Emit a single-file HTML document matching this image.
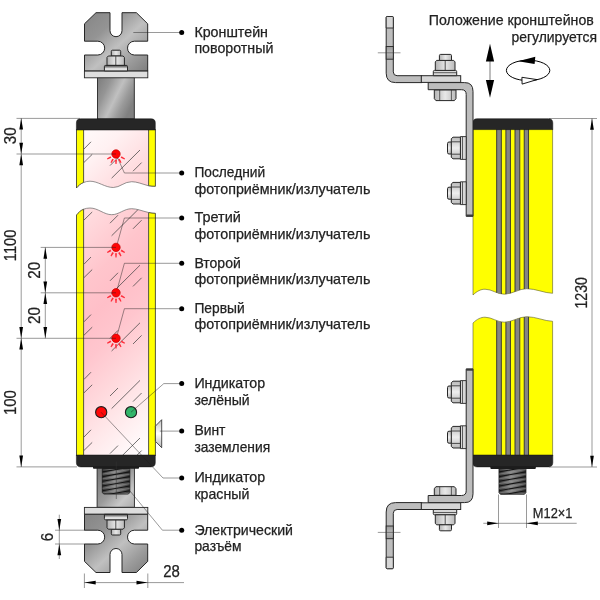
<!DOCTYPE html>
<html lang="ru">
<head>
<meta charset="utf-8">
<title>Световой барьер — габаритный чертёж</title>
<style>
html,body{margin:0;padding:0;background:#fff;}
body{width:600px;height:600px;overflow:hidden;}
svg{display:block;will-change:transform;filter:blur(0.5px);}
svg text{font-family:"Liberation Sans", sans-serif;stroke:#222;stroke-width:0.25px;}
</style>
</head>
<body>
<svg width="600" height="600" viewBox="0 0 600 600">
<rect width="600" height="600" fill="#fff"/>
<defs>
<linearGradient id="gBr" x1="0" y1="0" x2="1" y2="1">
 <stop offset="0" stop-color="#858585"/><stop offset="0.3" stop-color="#949494"/>
 <stop offset="0.55" stop-color="#c0c0c0"/><stop offset="0.78" stop-color="#9c9c9c"/><stop offset="1" stop-color="#7e7e7e"/>
</linearGradient>
<linearGradient id="gBrF" x1="0" y1="1" x2="1" y2="0">
 <stop offset="0" stop-color="#858585"/><stop offset="0.3" stop-color="#949494"/>
 <stop offset="0.55" stop-color="#c0c0c0"/><stop offset="0.78" stop-color="#9c9c9c"/><stop offset="1" stop-color="#7e7e7e"/>
</linearGradient>
<linearGradient id="gCyl" x1="0" y1="0" x2="1" y2="0.55">
 <stop offset="0" stop-color="#7c7c7c"/><stop offset="0.3" stop-color="#959595"/><stop offset="0.58" stop-color="#c0c0c0"/><stop offset="0.8" stop-color="#9a9a9a"/><stop offset="1" stop-color="#808080"/>
</linearGradient>
<linearGradient id="gCylB" x1="0" y1="0" x2="1" y2="1">
 <stop offset="0" stop-color="#767676"/><stop offset="0.5" stop-color="#9a9a9a"/><stop offset="0.76" stop-color="#c8c8c8"/><stop offset="1" stop-color="#acacac"/>
</linearGradient>
<linearGradient id="gThr" x1="0" y1="0" x2="1" y2="0">
 <stop offset="0" stop-color="#343434"/><stop offset="0.45" stop-color="#868686"/><stop offset="0.75" stop-color="#5e5e5e"/><stop offset="1" stop-color="#323232"/>
</linearGradient>
<linearGradient id="gNut" x1="0" y1="0" x2="1" y2="0">
 <stop offset="0" stop-color="#b2b2b2"/><stop offset="0.5" stop-color="#e8e8e8"/><stop offset="1" stop-color="#bababa"/>
</linearGradient>
<linearGradient id="gNutV" x1="0" y1="0" x2="0" y2="1">
 <stop offset="0" stop-color="#bababa"/><stop offset="0.5" stop-color="#eeeeee"/><stop offset="1" stop-color="#bababa"/>
</linearGradient>
<linearGradient id="gWash" x1="0" y1="0" x2="0" y2="1">
 <stop offset="0" stop-color="#4a4a4a"/><stop offset="0.3" stop-color="#8e8e8e"/><stop offset="0.55" stop-color="#dcdcdc"/><stop offset="1" stop-color="#ececec"/>
</linearGradient>
<linearGradient id="gWashF" x1="0" y1="1" x2="0" y2="0">
 <stop offset="0" stop-color="#4a4a4a"/><stop offset="0.3" stop-color="#8e8e8e"/><stop offset="0.55" stop-color="#dcdcdc"/><stop offset="1" stop-color="#ececec"/>
</linearGradient>
<linearGradient id="gSlot" x1="0" y1="0" x2="0" y2="1">
 <stop offset="0" stop-color="#9a9a9a"/><stop offset="0.5" stop-color="#b8b8b8"/><stop offset="1" stop-color="#9a9a9a"/>
</linearGradient>
<linearGradient id="gPink" gradientUnits="userSpaceOnUse" x1="84" y1="130" x2="279" y2="325">
 <stop offset="0" stop-color="#fffafa"/><stop offset="0.1" stop-color="#fff1f2"/>
 <stop offset="0.22" stop-color="#ffdde0"/><stop offset="0.4" stop-color="#ffc5cc"/><stop offset="0.5" stop-color="#ffbfc8"/>
 <stop offset="0.6" stop-color="#ffc6ce"/><stop offset="0.72" stop-color="#ffd8dc"/><stop offset="0.83" stop-color="#ffe9eb"/>
 <stop offset="0.93" stop-color="#fff7f8"/><stop offset="1" stop-color="#ffffff"/>
</linearGradient>
<linearGradient id="gScrew" x1="0" y1="0" x2="0" y2="1">
 <stop offset="0" stop-color="#c4c4c4"/><stop offset="0.5" stop-color="#ffffff"/><stop offset="1" stop-color="#b8b8b8"/>
</linearGradient>
<clipPath id="cpTop"><path d="M83.6,128 H148.6 V185.8 C142,184 137,181.7 131.7,181.7 C124,181.7 120,187.5 113.3,187.5 C105,187.5 98,181.2 90,181.2 C87.5,181.2 85.5,181.7 83.6,182.5 Z"/></clipPath>
<clipPath id="cpBot"><path d="M83.6,456 H148.6 V212.5 C142,211 137,208.7 131.7,208.7 C124,208.7 119,214.7 111.7,214.7 C104,214.7 98,208 90,208 C87.5,208 85.5,208.5 83.6,209.2 Z"/></clipPath>
</defs>
<g id="left-top">
<rect x="97.5" y="77.5" width="36.8" height="41.5" fill="url(#gCyl)" stroke="#262626" stroke-width="0.9"/>
<path d="M96,12.7 H110 V30.7 A6,6 0 0 0 122,30.7 V12.7 H136.4 L147.7,23.8 V41.2 H134.4 A6.9,6.9 0 0 0 134.4,55 H147.7 V71 H84.5 V55 H97.8 A6.9,6.9 0 0 0 97.8,41.2 H84.5 V23.8 Z" fill="url(#gBr)" stroke="#262626" stroke-width="1" stroke-linejoin="round"/>
<rect x="84.4" y="71.1" width="63.4" height="6.7" fill="#dedede" stroke="#262626" stroke-width="0.9"/>
<path d="M111.3,56 V51.4 Q111.3,50.2 112.5,50.2 H119.5 Q120.7,50.2 120.7,51.4 V56 Z" fill="url(#gNut)" stroke="#262626" stroke-width="1"/>
<path d="M107,65.4 V57.4 L108.3,56 H123.1 L124.4,57.4 V65.4 Z" fill="url(#gNut)" stroke="#262626" stroke-width="1"/>
<path d="M115.8,56.2 V65.2" stroke="#262626" stroke-width="0.8" fill="none"/>
<path d="M104.4,70.9 V66.6 Q104.4,65.4 105.6,65.4 H126.3 Q127.5,65.4 127.5,66.6 V70.9 Z" fill="url(#gWash)" stroke="#262626" stroke-width="1"/>
</g>
<g id="left-bottom">
<rect x="97.1" y="467" width="37.3" height="40.3" fill="url(#gCylB)" stroke="#262626" stroke-width="0.9"/>
<g transform="translate(0,585.2) scale(1,-1)">
<path d="M96,12.7 H110 V30.7 A6,6 0 0 0 122,30.7 V12.7 H136.4 L147.7,23.8 V41.2 H134.4 A6.9,6.9 0 0 0 134.4,55 H147.7 V71 H84.5 V55 H97.8 A6.9,6.9 0 0 0 97.8,41.2 H84.5 V23.8 Z" fill="url(#gBrF)" stroke="#262626" stroke-width="1" stroke-linejoin="round"/>
<rect x="84.4" y="71.1" width="63.4" height="6.7" fill="#dedede" stroke="#262626" stroke-width="0.9"/>
<path d="M111.3,56 V51.4 Q111.3,50.2 112.5,50.2 H119.5 Q120.7,50.2 120.7,51.4 V56 Z" fill="url(#gNut)" stroke="#262626" stroke-width="1"/>
<path d="M107,65.4 V57.4 L108.3,56 H123.1 L124.4,57.4 V65.4 Z" fill="url(#gNut)" stroke="#262626" stroke-width="1"/>
<path d="M115.8,56.2 V65.2" stroke="#262626" stroke-width="0.8" fill="none"/>
<path d="M104.4,70.9 V66.6 Q104.4,65.4 105.6,65.4 H126.3 Q127.5,65.4 127.5,66.6 V70.9 Z" fill="url(#gWashF)" stroke="#262626" stroke-width="1"/>
</g>
<clipPath id="cpth102"><path d="M102.3,468.5 H129.8 V492.4 L128.4,494 H103.7 L102.3,492.4 Z"/></clipPath>
<path d="M102.3,468.5 H129.8 V492.4 L128.4,494 H103.7 L102.3,492.4 Z" fill="url(#gThr)" stroke="#1e1e1e" stroke-width="0.9" stroke-linejoin="round"/>
<g clip-path="url(#cpth102)"><path d="M102.3,474.2 L129.8,469.5 M102.3,478.9 L129.8,474.2 M102.3,483.6 L129.8,478.9 M102.3,488.3 L129.8,483.6 M102.3,493 L129.8,488.3 M102.3,497.7 L129.8,493" stroke="#a0a0a0" stroke-width="1.2" fill="none" opacity="0.45"/><path d="M102.3,471.9 L129.8,467.2 M102.3,476.6 L129.8,471.9 M102.3,481.3 L129.8,476.6 M102.3,486 L129.8,481.3 M102.3,490.7 L129.8,486 M102.3,495.4 L129.8,490.7" stroke="#141414" stroke-width="1.1" fill="none"/></g>
</g>
<g id="glass">
<rect x="83.6" y="128" width="65" height="62" fill="url(#gPink)" clip-path="url(#cpTop)"/>
<rect x="83.6" y="205" width="65" height="251" fill="url(#gPink)" clip-path="url(#cpBot)"/>
<path d="M84,91.4 L91,84.2 M84,104.8 L92.2,96.8 M110,108 L118,100 M111.6,120.6 L140,92.4 M133,113.6 L141.6,105 M84,149 L91,141.8 M84,162.4 L92.2,154.4 M110,165.6 L118,157.6 M111.6,178.2 L140,150 M133,171.2 L141.6,162.6 M84,206.6 L91,199.4 M84,220 L92.2,212 M110,223.2 L118,215.2 M111.6,235.8 L140,207.6 M133,228.8 L141.6,220.2 M84,264.2 L91,257 M84,277.6 L92.2,269.6 M110,280.8 L118,272.8 M111.6,293.4 L140,265.2 M133,286.4 L141.6,277.8 M84,321.8 L91,314.6 M84,335.2 L92.2,327.2 M110,338.4 L118,330.4 M111.6,351 L140,322.8 M133,344 L141.6,335.4 M84,379.4 L91,372.2 M84,392.8 L92.2,384.8 M110,396 L118,388 M111.6,408.6 L140,380.4 M133,401.6 L141.6,393 M84,437 L91,429.8 M84,450.4 L92.2,442.4 M110,453.6 L118,445.6 M111.6,466.2 L140,438 M133,459.2 L141.6,450.6" stroke="#444" stroke-width="0.75" fill="none" clip-path="url(#cpTop)"/>
<path d="M84,91.4 L91,84.2 M84,104.8 L92.2,96.8 M110,108 L118,100 M111.6,120.6 L140,92.4 M133,113.6 L141.6,105 M84,149 L91,141.8 M84,162.4 L92.2,154.4 M110,165.6 L118,157.6 M111.6,178.2 L140,150 M133,171.2 L141.6,162.6 M84,206.6 L91,199.4 M84,220 L92.2,212 M110,223.2 L118,215.2 M111.6,235.8 L140,207.6 M133,228.8 L141.6,220.2 M84,264.2 L91,257 M84,277.6 L92.2,269.6 M110,280.8 L118,272.8 M111.6,293.4 L140,265.2 M133,286.4 L141.6,277.8 M84,321.8 L91,314.6 M84,335.2 L92.2,327.2 M110,338.4 L118,330.4 M111.6,351 L140,322.8 M133,344 L141.6,335.4 M84,379.4 L91,372.2 M84,392.8 L92.2,384.8 M110,396 L118,388 M111.6,408.6 L140,380.4 M133,401.6 L141.6,393 M84,437 L91,429.8 M84,450.4 L92.2,442.4 M110,453.6 L118,445.6 M111.6,466.2 L140,438 M133,459.2 L141.6,450.6" stroke="#444" stroke-width="0.75" fill="none" clip-path="url(#cpBot)"/>
</g>
<g id="strips" fill="#ffff00" stroke="#2b2b2b" stroke-width="0.8" stroke-linejoin="round">
<path d="M76.5,129.5 H83.6 V182.5 C80.5,183.8 78.5,185.5 76.5,188 Z"/>
<path d="M148.6,129.5 H155.4 V186.3 C153,186.3 151,186.2 148.6,185.8 Z"/>
<path d="M76.5,215 C78.5,212.5 80.5,210.5 83.6,209.2 V455.5 H76.5 Z"/>
<path d="M148.6,212.5 C151,213 153,213.2 155.4,213.3 V455.5 H148.6 Z"/>
</g>
<path d="M83.6,182.5 C85.5,181.7 87.5,181.2 90,181.2 C98,181.2 105,187.5 113.3,187.5 C120,187.5 124,181.7 131.7,181.7 C137,181.7 142,184 148.6,185.8" fill="none" stroke="#666" stroke-width="0.7"/>
<path d="M83.6,209.2 C85.5,208.5 87.5,208 90,208 C98,208 104,214.7 111.7,214.7 C119,214.7 124,208.7 131.7,208.7 C137,208.7 142,211 148.6,212.5" fill="none" stroke="#666" stroke-width="0.7"/>
<path d="M76.4,130 V123 Q76.4,118.8 80.6,118.8 H151.1 Q155.3,118.8 155.3,123 V130 Z" fill="#262626" stroke="#111" stroke-width="0.5"/>
<path d="M76.4,455 V462.6 Q76.4,466.9 80.7,466.9 H151 Q155.3,466.9 155.3,462.6 V455 Z" fill="#262626" stroke="#111" stroke-width="0.5"/>
<rect x="93" y="466.6" width="46" height="2.1" rx="0.8" fill="#1c1c1c"/>
<path d="M155.4,426.1 L161.7,419.7 V447.7 L155.4,441.3 Z" fill="url(#gScrew)" stroke="#262626" stroke-width="0.8" stroke-linejoin="round"/>
<g id="leaders">
<path d="M133.3,32.5 H181" fill="none" stroke="#1c1c1c" stroke-width="0.45"/>
<path d="M116.8,156 L124.4,173 H181" fill="none" stroke="#1c1c1c" stroke-width="0.45"/>
<path d="M116.8,245.4 L124.4,218 H181" fill="none" stroke="#1c1c1c" stroke-width="0.45"/>
<path d="M116.8,290.8 L124.4,263.3 H181" fill="none" stroke="#1c1c1c" stroke-width="0.45"/>
<path d="M116.8,336.3 L124.4,308.7 H181" fill="none" stroke="#1c1c1c" stroke-width="0.45"/>
<path d="M131,412.2 L163.8,383.6 H181" fill="none" stroke="#1c1c1c" stroke-width="0.45"/>
<path d="M159.8,431.1 H181" fill="none" stroke="#1c1c1c" stroke-width="0.45"/>
<path d="M101.2,412.2 L163,478 H181" fill="none" stroke="#1c1c1c" stroke-width="0.45"/>
<path d="M130,491 L162.4,530.2 H181" fill="none" stroke="#1c1c1c" stroke-width="0.45"/>
</g>
<g id="leds">
<path d="M120.63,157.77 L124.47,159.53 L125.02,158.57 L121.58,156.13 Z M118.13,159.58 L120.57,163.02 L121.53,162.47 L119.77,158.63 Z M115.05,159.9 L115.45,164.1 L116.55,164.1 L116.95,159.9 Z M112.23,158.63 L110.47,162.47 L111.43,163.02 L113.87,159.58 Z M110.42,156.13 L106.98,158.57 L107.53,159.53 L111.37,157.77 Z" fill="#ff2d3a"/>
<circle cx="116" cy="154" r="4.2" fill="#ff0505" stroke="#c40000" stroke-width="0.7"/>
<path d="M120.63,251.17 L124.47,252.93 L125.02,251.97 L121.58,249.53 Z M118.13,252.98 L120.57,256.42 L121.53,255.87 L119.77,252.03 Z M115.05,253.3 L115.45,257.5 L116.55,257.5 L116.95,253.3 Z M112.23,252.03 L110.47,255.87 L111.43,256.42 L113.87,252.98 Z M110.42,249.53 L106.98,251.97 L107.53,252.93 L111.37,251.17 Z" fill="#ff2d3a"/>
<circle cx="116" cy="247.4" r="4.2" fill="#ff0505" stroke="#c40000" stroke-width="0.7"/>
<path d="M120.63,296.57 L124.47,298.33 L125.02,297.37 L121.58,294.93 Z M118.13,298.38 L120.57,301.82 L121.53,301.27 L119.77,297.43 Z M115.05,298.7 L115.45,302.9 L116.55,302.9 L116.95,298.7 Z M112.23,297.43 L110.47,301.27 L111.43,301.82 L113.87,298.38 Z M110.42,294.93 L106.98,297.37 L107.53,298.33 L111.37,296.57 Z" fill="#ff2d3a"/>
<circle cx="116" cy="292.8" r="4.2" fill="#ff0505" stroke="#c40000" stroke-width="0.7"/>
<path d="M120.63,342.07 L124.47,343.83 L125.02,342.87 L121.58,340.43 Z M118.13,343.88 L120.57,347.32 L121.53,346.77 L119.77,342.93 Z M115.05,344.2 L115.45,348.4 L116.55,348.4 L116.95,344.2 Z M112.23,342.93 L110.47,346.77 L111.43,347.32 L113.87,343.88 Z M110.42,340.43 L106.98,342.87 L107.53,343.83 L111.37,342.07 Z" fill="#ff2d3a"/>
<circle cx="116" cy="338.3" r="4.2" fill="#ff0505" stroke="#c40000" stroke-width="0.7"/>
</g>
<circle cx="101.2" cy="412.2" r="5.6" fill="#ff0808" stroke="#1e1e1e" stroke-width="1.1"/>
<circle cx="131" cy="412.2" r="5.6" fill="#33b56a" stroke="#1e1e1e" stroke-width="1.1"/>
<path d="M101,412.2 L104.5,416" fill="none" stroke="#1c1c1c" stroke-width="0.45"/>
<path d="M131,412.2 L134.8,408.8" fill="none" stroke="#1c1c1c" stroke-width="0.45"/>
<g id="dots" fill="#000">
<circle cx="181.7" cy="32.5" r="2.5"/>
<circle cx="181.7" cy="173.0" r="2.5"/>
<circle cx="181.7" cy="218.0" r="2.5"/>
<circle cx="181.7" cy="263.3" r="2.5"/>
<circle cx="181.7" cy="308.7" r="2.5"/>
<circle cx="181.7" cy="383.6" r="2.5"/>
<circle cx="181.7" cy="431.1" r="2.5"/>
<circle cx="181.7" cy="478.0" r="2.5"/>
<circle cx="181.7" cy="530.2" r="2.5"/>
</g>
<g id="labels" font-size="14.3" fill="#222">
<text x="194.4" y="36.8" textLength="73.6" lengthAdjust="spacingAndGlyphs">Кронштейн</text>
<text x="194.4" y="53" textLength="79" lengthAdjust="spacingAndGlyphs">поворотный</text>
<text x="194.4" y="177.3" textLength="70.8" lengthAdjust="spacingAndGlyphs">Последний</text>
<text x="194.4" y="193.5" textLength="176" lengthAdjust="spacingAndGlyphs">фотоприёмник/излучатель</text>
<text x="194.4" y="222.3" textLength="46.4" lengthAdjust="spacingAndGlyphs">Третий</text>
<text x="194.4" y="238.5" textLength="176" lengthAdjust="spacingAndGlyphs">фотоприёмник/излучатель</text>
<text x="194.4" y="267.6" textLength="46.4" lengthAdjust="spacingAndGlyphs">Второй</text>
<text x="194.4" y="283.8" textLength="176" lengthAdjust="spacingAndGlyphs">фотоприёмник/излучатель</text>
<text x="194.4" y="313" textLength="50.2" lengthAdjust="spacingAndGlyphs">Первый</text>
<text x="194.4" y="329.2" textLength="176" lengthAdjust="spacingAndGlyphs">фотоприёмник/излучатель</text>
<text x="194.4" y="387.9" textLength="70.7" lengthAdjust="spacingAndGlyphs">Индикатор</text>
<text x="194.4" y="404.7" textLength="55.3" lengthAdjust="spacingAndGlyphs">зелёный</text>
<text x="194.4" y="435.4" textLength="31" lengthAdjust="spacingAndGlyphs">Винт</text>
<text x="194.4" y="451.6" textLength="75.8" lengthAdjust="spacingAndGlyphs">заземления</text>
<text x="194.4" y="482.3" textLength="70.7" lengthAdjust="spacingAndGlyphs">Индикатор</text>
<text x="194.4" y="498.5" textLength="54.9" lengthAdjust="spacingAndGlyphs">красный</text>
<text x="194.4" y="534.5" textLength="98.6" lengthAdjust="spacingAndGlyphs">Электрический</text>
<text x="194.4" y="550.7" textLength="47.2" lengthAdjust="spacingAndGlyphs">разъём</text>
<text x="428.8" y="25.4" textLength="165" lengthAdjust="spacingAndGlyphs">Положение кронштейнов</text>
<text x="511.4" y="42" textLength="85.6" lengthAdjust="spacingAndGlyphs">регулируется</text>
</g>
<path d="M116.3,461.5 V499" fill="none" stroke="#333" stroke-width="0.5"/>
<g id="dims">
<path d="M16.5,118.4 H80" fill="none" stroke="#1c1c1c" stroke-width="0.45"/>
<path d="M16.5,154 H116" fill="none" stroke="#1c1c1c" stroke-width="0.45"/>
<path d="M40.7,247.4 H116" fill="none" stroke="#1c1c1c" stroke-width="0.45"/>
<path d="M40.7,292.8 H116" fill="none" stroke="#1c1c1c" stroke-width="0.45"/>
<path d="M16.5,338.3 H116" fill="none" stroke="#1c1c1c" stroke-width="0.45"/>
<path d="M16.5,466.9 H77" fill="none" stroke="#1c1c1c" stroke-width="0.45"/>
<path d="M21.2,118.3 V466.9" fill="none" stroke="#1c1c1c" stroke-width="0.45"/>
<path d="M45.3,247.4 V338.3" fill="none" stroke="#1c1c1c" stroke-width="0.45"/>
<path d="M21.2,118.3 L23.05,129.6 L19.35,129.6 Z" fill="#000"/>
<path d="M21.2,154 L19.35,142.7 L23.05,142.7 Z" fill="#000"/>
<path d="M21.2,154 L23.05,165.3 L19.35,165.3 Z" fill="#000"/>
<path d="M21.2,338.3 L19.35,327 L23.05,327 Z" fill="#000"/>
<path d="M21.2,338.3 L23.05,349.6 L19.35,349.6 Z" fill="#000"/>
<path d="M21.2,466.9 L19.35,455.6 L23.05,455.6 Z" fill="#000"/>
<path d="M45.3,247.4 L47.15,258.7 L43.45,258.7 Z" fill="#000"/>
<path d="M45.3,292.8 L43.45,281.5 L47.15,281.5 Z" fill="#000"/>
<path d="M45.3,292.8 L47.15,304.1 L43.45,304.1 Z" fill="#000"/>
<path d="M45.3,338.3 L43.45,327 L47.15,327 Z" fill="#000"/>
<path d="M55,530.2 H85" fill="none" stroke="#1c1c1c" stroke-width="0.45"/>
<path d="M55,544 H85" fill="none" stroke="#1c1c1c" stroke-width="0.45"/>
<path d="M59.3,514.7 V559" fill="none" stroke="#1c1c1c" stroke-width="0.45"/>
<path d="M59.3,530.2 L57.45,518.9 L61.15,518.9 Z" fill="#000"/>
<path d="M59.3,544 L61.15,555.3 L57.45,555.3 Z" fill="#000"/>
<path d="M84.4,573.5 V588" fill="none" stroke="#1c1c1c" stroke-width="0.45"/>
<path d="M147.8,573.5 V588" fill="none" stroke="#1c1c1c" stroke-width="0.45"/>
<path d="M84.4,582.6 H184" fill="none" stroke="#1c1c1c" stroke-width="0.45"/>
<path d="M84.4,582.6 L95.7,580.75 L95.7,584.45 Z" fill="#000"/>
<path d="M147.8,582.6 L136.5,584.45 L136.5,580.75 Z" fill="#000"/>
</g>
<g id="dimtext">
<text transform="translate(15.7,135.8) rotate(-90)" text-anchor="middle" font-size="16.2" fill="#222" textLength="16.8" lengthAdjust="spacingAndGlyphs">30</text>
<text transform="translate(15.7,245.4) rotate(-90)" text-anchor="middle" font-size="16.2" fill="#222" textLength="31.6" lengthAdjust="spacingAndGlyphs">1100</text>
<text transform="translate(39.7,270.3) rotate(-90)" text-anchor="middle" font-size="16.2" fill="#222" textLength="16.8" lengthAdjust="spacingAndGlyphs">20</text>
<text transform="translate(39.7,315.6) rotate(-90)" text-anchor="middle" font-size="16.2" fill="#222" textLength="16.8" lengthAdjust="spacingAndGlyphs">20</text>
<text transform="translate(15.7,402.6) rotate(-90)" text-anchor="middle" font-size="16.2" fill="#222" textLength="25" lengthAdjust="spacingAndGlyphs">100</text>
<text transform="translate(53.4,537.1) rotate(-90)" text-anchor="middle" font-size="16.2" fill="#222" textLength="8.4" lengthAdjust="spacingAndGlyphs">6</text>
<text x="171.6" y="577" text-anchor="middle" font-size="16.2" fill="#222" textLength="16.6" lengthAdjust="spacingAndGlyphs">28</text>
</g>
<g id="right-body">
<clipPath id="cpRT2"><path d="M473,128 V295 C477,291 481,289.2 485,289.2 C492,289.2 497,294.2 504.2,294.2 C512,294.2 519,288.7 526.7,288.7 C536,288.7 544,293 552.6,293.3 V128 Z"/></clipPath>
<clipPath id="cpRB2"><path d="M473,457 V323 C477,319 481,317.2 485,317.2 C492,317.2 497,322.2 504.2,322.2 C512,322.2 519,316.7 526.7,316.7 C536,316.7 544,321 552.6,321.3 V457 Z"/></clipPath>
<path d="M473,129 V295 C477,291 481,289.2 485,289.2 C492,289.2 497,294.2 504.2,294.2 C512,294.2 519,288.7 526.7,288.7 C536,288.7 544,293 552.6,293.3 V129 Z" fill="#ffff00" stroke="#5a5a2a" stroke-width="0.6"/>
<path d="M473,456 V323 C477,319 481,317.2 485,317.2 C492,317.2 497,322.2 504.2,322.2 C512,322.2 519,316.7 526.7,316.7 C536,316.7 544,321 552.6,321.3 V456 Z" fill="#ffff00" stroke="#5a5a2a" stroke-width="0.6"/>
<g clip-path="url(#cpRT2)">
<rect x="496.7" y="129" width="4.6" height="171" fill="#858585" stroke="#303030" stroke-width="0.9"/>
<rect x="505.9" y="129" width="4.5" height="171" fill="#858585" stroke="#303030" stroke-width="0.9"/>
<rect x="515" y="129" width="4.8" height="171" fill="#858585" stroke="#303030" stroke-width="0.9"/>
<rect x="524.2" y="129" width="4.4" height="171" fill="#858585" stroke="#303030" stroke-width="0.9"/>
</g>
<g clip-path="url(#cpRB2)">
<rect x="496.7" y="310" width="4.6" height="146" fill="#858585" stroke="#303030" stroke-width="0.9"/>
<rect x="505.9" y="310" width="4.5" height="146" fill="#858585" stroke="#303030" stroke-width="0.9"/>
<rect x="515" y="310" width="4.8" height="146" fill="#858585" stroke="#303030" stroke-width="0.9"/>
<rect x="524.2" y="310" width="4.4" height="146" fill="#858585" stroke="#303030" stroke-width="0.9"/>
</g>
<path d="M472.8,129.6 V123 Q472.8,118.7 477.1,118.7 H548.5 Q552.8000000000001,118.7 552.8000000000001,123 V129.6 Z" fill="#262626" stroke="#111" stroke-width="0.5"/>
<path d="M472.8,455 V462.6 Q472.8,466.9 477.1,466.9 H548.5 Q552.8000000000001,466.9 552.8000000000001,462.6 V455 Z" fill="#262626" stroke="#111" stroke-width="0.5"/>
<clipPath id="cpth499"><path d="M499,468.5 H525.9 V492.59999999999997 L524.5,494.2 H500.4 L499,492.59999999999997 Z"/></clipPath>
<path d="M499,468.5 H525.9 V492.59999999999997 L524.5,494.2 H500.4 L499,492.59999999999997 Z" fill="url(#gThr)" stroke="#1e1e1e" stroke-width="0.9" stroke-linejoin="round"/>
<g clip-path="url(#cpth499)"><path d="M499,474.2 L525.9,469.5 M499,478.9 L525.9,474.2 M499,483.6 L525.9,478.9 M499,488.3 L525.9,483.6 M499,493 L525.9,488.3 M499,497.7 L525.9,493" stroke="#a0a0a0" stroke-width="1.2" fill="none" opacity="0.45"/><path d="M499,471.9 L525.9,467.2 M499,476.6 L525.9,471.9 M499,481.3 L525.9,476.6 M499,486 L525.9,481.3 M499,490.7 L525.9,486 M499,495.4 L525.9,490.7" stroke="#141414" stroke-width="1.1" fill="none"/></g>
<rect x="490.3" y="466.6" width="45.6" height="2.3" rx="0.8" fill="#1c1c1c"/>
</g>
<g id="rb-top"><path d="M434.3,89.9 H456 V98.6 L454.4,100.6 H435.9 L434.3,98.6 Z" fill="url(#gNut)" stroke="#262626" stroke-width="1" stroke-linejoin="round"/>
<path d="M439.7,89.9 V100.4 M451.4,89.9 V100.4" stroke="#262626" stroke-width="0.7" fill="none"/>
<path d="M428.2,82.6 H464.5 Q473,82.4 473,91.4 V216.3 H466.2 V94.4 Q466.2,89.7 461.5,89.7 H428.2 Z" fill="#bdbdbd" stroke="#262626" stroke-width="1" stroke-linejoin="round"/>
<path d="M466.2,215.4 H473" stroke="#3a3a3a" stroke-width="1.8" fill="none"/>
<path d="M386.2,17.5 Q386.2,16.5 387.2,16.5 H392.3 Q393.3,16.5 393.3,17.5 V71.9 Q393.3,75.7 397.1,75.7 H422 V82.6 H395.6 Q386.2,82.6 386.2,73.2 Z" fill="#bdbdbd" stroke="#262626" stroke-width="1" stroke-linejoin="round"/>
<path d="M386.2,28 V17.5 Q386.2,16.5 387.2,16.5 H392.3 Q393.3,16.5 393.3,17.5 V28 Z" fill="#d6d6d6" stroke="#262626" stroke-width="0.9"/>
<rect x="386.2" y="46.5" width="7.1" height="12.7" fill="url(#gSlot)" stroke="#262626" stroke-width="0.9"/>
<rect x="421.3" y="75.7" width="39.4" height="6.7" fill="#d6d6d6" stroke="#262626" stroke-width="1"/>
<path d="M433.3,75.7 V71.6 Q433.3,70.4 434.5,70.4 H455.5 Q456.7,70.4 456.7,71.6 V75.7 Z" fill="#d8d8d8" stroke="#262626" stroke-width="1"/>
<path d="M433.6,72.7 H456.4" stroke="#262626" stroke-width="0.7" fill="none"/>
<path d="M435.3,70.4 V61.9 L436.6,60.4 H453.7 L455,61.9 V70.4 Z" fill="url(#gNut)" stroke="#262626" stroke-width="1"/>
<path d="M445.2,60.6 V70.4" stroke="#262626" stroke-width="0.8" fill="none"/>
<path d="M439.4,60.4 V55.6 Q439.4,54.4 440.6,54.4 H450.3 Q451.5,54.4 451.5,55.6 V60.4 Z" fill="url(#gNut)" stroke="#262626" stroke-width="1"/>
<path d="M460.4,136.6 H466.2 V159.4 H460.4 Z" fill="#d8d8d8" stroke="#262626" stroke-width="0.9"/>
<path d="M462.5,136.8 V159.2" stroke="#262626" stroke-width="0.7" fill="none"/>
<path d="M451.5,142 H449 Q447.5,142 447.5,143.5 V152.5 Q447.5,154 449,154 H451.5 Z" fill="url(#gNutV)" stroke="#262626" stroke-width="1"/>
<path d="M460.4,137.2 H453 L451.3,138.7 V157.3 L453,158.8 H460.4 Z" fill="url(#gNutV)" stroke="#262626" stroke-width="1" stroke-linejoin="round"/>
<path d="M451.5,141.8 H460.2 M451.5,154.2 H460.2" stroke="#262626" stroke-width="0.8" fill="none"/>
<path d="M460.4,181.8 H466.2 V204.6 H460.4 Z" fill="#d8d8d8" stroke="#262626" stroke-width="0.9"/>
<path d="M462.5,182 V204.4" stroke="#262626" stroke-width="0.7" fill="none"/>
<path d="M451.5,187.2 H449 Q447.5,187.2 447.5,188.7 V197.7 Q447.5,199.2 449,199.2 H451.5 Z" fill="url(#gNutV)" stroke="#262626" stroke-width="1"/>
<path d="M460.4,182.4 H453 L451.3,183.9 V202.5 L453,204 H460.4 Z" fill="url(#gNutV)" stroke="#262626" stroke-width="1" stroke-linejoin="round"/>
<path d="M451.5,187 H460.2 M451.5,199.4 H460.2" stroke="#262626" stroke-width="0.8" fill="none"/>
<path d="M377.8,52.8 H400.5" stroke="#333" stroke-width="0.5" fill="none"/></g>
<g id="rb-bot" transform="translate(0,585.2) scale(1,-1)"><path d="M434.3,89.9 H456 V96.5 L454.4,98.5 H435.9 L434.3,96.5 Z" fill="url(#gNut)" stroke="#262626" stroke-width="1" stroke-linejoin="round"/>
<path d="M439.7,89.9 V98.3 M451.4,89.9 V98.3" stroke="#262626" stroke-width="0.7" fill="none"/>
<path d="M428.2,82.6 H464.5 Q473,82.4 473,91.4 V216.3 H466.2 V94.4 Q466.2,89.7 461.5,89.7 H428.2 Z" fill="#bdbdbd" stroke="#262626" stroke-width="1" stroke-linejoin="round"/>
<path d="M466.2,215.4 H473" stroke="#3a3a3a" stroke-width="1.8" fill="none"/>
<path d="M386.2,17.5 Q386.2,16.5 387.2,16.5 H392.3 Q393.3,16.5 393.3,17.5 V71.9 Q393.3,75.7 397.1,75.7 H422 V82.6 H395.6 Q386.2,82.6 386.2,73.2 Z" fill="#bdbdbd" stroke="#262626" stroke-width="1" stroke-linejoin="round"/>
<path d="M386.2,28 V17.5 Q386.2,16.5 387.2,16.5 H392.3 Q393.3,16.5 393.3,17.5 V28 Z" fill="#d6d6d6" stroke="#262626" stroke-width="0.9"/>
<rect x="386.2" y="46.5" width="7.1" height="12.7" fill="url(#gSlot)" stroke="#262626" stroke-width="0.9"/>
<rect x="421.3" y="75.7" width="39.4" height="6.7" fill="#d6d6d6" stroke="#262626" stroke-width="1"/>
<path d="M433.3,75.7 V71.6 Q433.3,70.4 434.5,70.4 H455.5 Q456.7,70.4 456.7,71.6 V75.7 Z" fill="#d8d8d8" stroke="#262626" stroke-width="1"/>
<path d="M433.6,72.7 H456.4" stroke="#262626" stroke-width="0.7" fill="none"/>
<path d="M435.3,70.4 V61.9 L436.6,60.4 H453.7 L455,61.9 V70.4 Z" fill="url(#gNut)" stroke="#262626" stroke-width="1"/>
<path d="M445.2,60.6 V70.4" stroke="#262626" stroke-width="0.8" fill="none"/>
<path d="M439.4,60.4 V55.6 Q439.4,54.4 440.6,54.4 H450.3 Q451.5,54.4 451.5,55.6 V60.4 Z" fill="url(#gNut)" stroke="#262626" stroke-width="1"/>
<path d="M460.4,136.6 H466.2 V159.4 H460.4 Z" fill="#d8d8d8" stroke="#262626" stroke-width="0.9"/>
<path d="M462.5,136.8 V159.2" stroke="#262626" stroke-width="0.7" fill="none"/>
<path d="M451.5,142 H449 Q447.5,142 447.5,143.5 V152.5 Q447.5,154 449,154 H451.5 Z" fill="url(#gNutV)" stroke="#262626" stroke-width="1"/>
<path d="M460.4,137.2 H453 L451.3,138.7 V157.3 L453,158.8 H460.4 Z" fill="url(#gNutV)" stroke="#262626" stroke-width="1" stroke-linejoin="round"/>
<path d="M451.5,141.8 H460.2 M451.5,154.2 H460.2" stroke="#262626" stroke-width="0.8" fill="none"/>
<path d="M460.4,181.8 H466.2 V204.6 H460.4 Z" fill="#d8d8d8" stroke="#262626" stroke-width="0.9"/>
<path d="M462.5,182 V204.4" stroke="#262626" stroke-width="0.7" fill="none"/>
<path d="M451.5,187.2 H449 Q447.5,187.2 447.5,188.7 V197.7 Q447.5,199.2 449,199.2 H451.5 Z" fill="url(#gNutV)" stroke="#262626" stroke-width="1"/>
<path d="M460.4,182.4 H453 L451.3,183.9 V202.5 L453,204 H460.4 Z" fill="url(#gNutV)" stroke="#262626" stroke-width="1" stroke-linejoin="round"/>
<path d="M451.5,187 H460.2 M451.5,199.4 H460.2" stroke="#262626" stroke-width="0.8" fill="none"/>
<path d="M377.8,52.8 H400.5" stroke="#333" stroke-width="0.5" fill="none"/></g>
<path d="M490,58 V84" fill="none" stroke="#222" stroke-width="0.6"/>
<path d="M490,43.8 L494.1,61.4 L485.9,61.4 Z" fill="#000"/>
<path d="M490,97.8 L485.9,80 L494.1,80 Z" fill="#000"/>
<ellipse cx="528.1" cy="70.4" rx="21.7" ry="10.2" fill="none" stroke="#000" stroke-width="1"/>
<path d="M518.3,61.3 L535.3,56.8 L534.6,63.9 Z" fill="#000"/>
<path d="M521.9,77.3 L537,79.6 L522.1,84.1 Z" fill="#fff" stroke="#000" stroke-width="0.9" stroke-linejoin="miter"/>
<path d="M549,118.5 H597" fill="none" stroke="#1c1c1c" stroke-width="0.45"/>
<path d="M549,467 H597" fill="none" stroke="#1c1c1c" stroke-width="0.45"/>
<path d="M592,118.5 V467" fill="none" stroke="#1c1c1c" stroke-width="0.45"/>
<path d="M592,118.5 L593.85,129.8 L590.15,129.8 Z" fill="#000"/>
<path d="M592,467 L590.15,455.7 L593.85,455.7 Z" fill="#000"/>
<text transform="translate(586.6,292.8) rotate(-90)" text-anchor="middle" font-size="16.2" fill="#222" textLength="31.6" lengthAdjust="spacingAndGlyphs">1230</text>
<path d="M498.5,494.5 V528" fill="none" stroke="#1c1c1c" stroke-width="0.45"/>
<path d="M526.5,494.5 V528" fill="none" stroke="#1c1c1c" stroke-width="0.45"/>
<path d="M483.3,523.3 H576.7" fill="none" stroke="#1c1c1c" stroke-width="0.45"/>
<path d="M498.5,523.3 L487.2,525.15 L487.2,521.45 Z" fill="#000"/>
<path d="M526.5,523.3 L537.8,521.45 L537.8,525.15 Z" fill="#000"/>
<text x="532.8" y="517.5" font-size="14.600000000000001" fill="#222" textLength="39.6" lengthAdjust="spacingAndGlyphs">M12×1</text>
</svg>
</body>
</html>
